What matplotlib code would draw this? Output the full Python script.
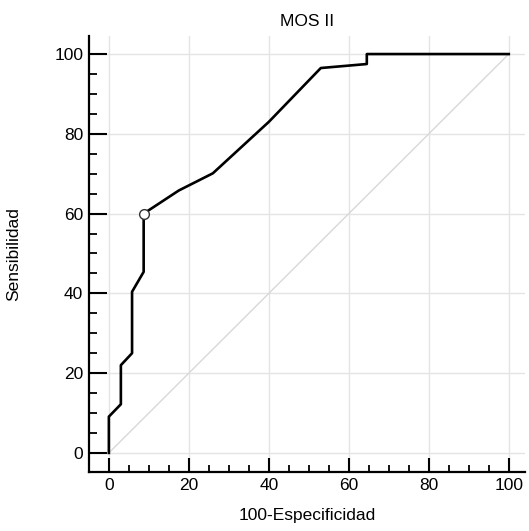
import matplotlib.pyplot as plt
from matplotlib.ticker import MultipleLocator

plt.rcParams['font.family'] = ['Liberation Sans', 'DejaVu Sans']

# ROC curve points (100-Especificidad, Sensibilidad)
fpr = [0, 0, 3.0, 3.0, 5.8, 5.8, 8.7, 8.7, 17.5, 26.0, 40.0, 53.0, 64.5, 64.5, 100]
tpr = [0, 9.1, 12.2, 22.0, 25.0, 40.4, 45.4, 60.0, 65.8, 70.1, 83.0, 96.5, 97.5, 100, 100]
cut_x, cut_y = 8.7, 60.0

title = "MOS II"
xlabel = "100-Especificidad"
ylabel = "Sensibilidad"

fig = plt.figure(figsize=(5.29, 5.31), dpi=100)
ax = fig.add_axes([0.168, 0.111, 0.824, 0.821])

ax.grid(True, which='major', color='#e4e4e4', lw=1.0)
ax.set_axisbelow(True)
ax.plot([0, 100], [0, 100], color='#d8d8d8', lw=1.0, zorder=1)
ax.plot(fpr, tpr, color='black', lw=1.9, zorder=3)
ax.plot([cut_x], [cut_y], marker='o', ms=7, mfc='white', mec='#333333',
        mew=1.0, zorder=4)

ax.set_xlim(-5, 104)
ax.set_ylim(-4.8, 104.5)
ax.xaxis.set_minor_locator(MultipleLocator(5))
ax.yaxis.set_minor_locator(MultipleLocator(5))
ax.set_xticks(range(0, 101, 20))
ax.set_yticks(range(0, 101, 20))

ax.tick_params(which='major', direction='in', length=10, width=1.5,
               labelsize=12.5, pad=4, colors='black')
ax.tick_params(which='minor', direction='in', length=5, width=1.3)
ax.tick_params(axis='y', which='major', length=13)
ax.tick_params(axis='y', which='minor', length=6)

for s in ['top', 'right']:
    ax.spines[s].set_visible(False)
for s in ['left', 'bottom']:
    ax.spines[s].set_linewidth(1.6)

ax.set_title(title, fontsize=12.5, pad=7)
ax.set_xlabel(xlabel, fontsize=12.5, labelpad=11)
ax.set_ylabel(ylabel, fontsize=12.5, labelpad=24)

fig.savefig("out.png", dpi=100)
